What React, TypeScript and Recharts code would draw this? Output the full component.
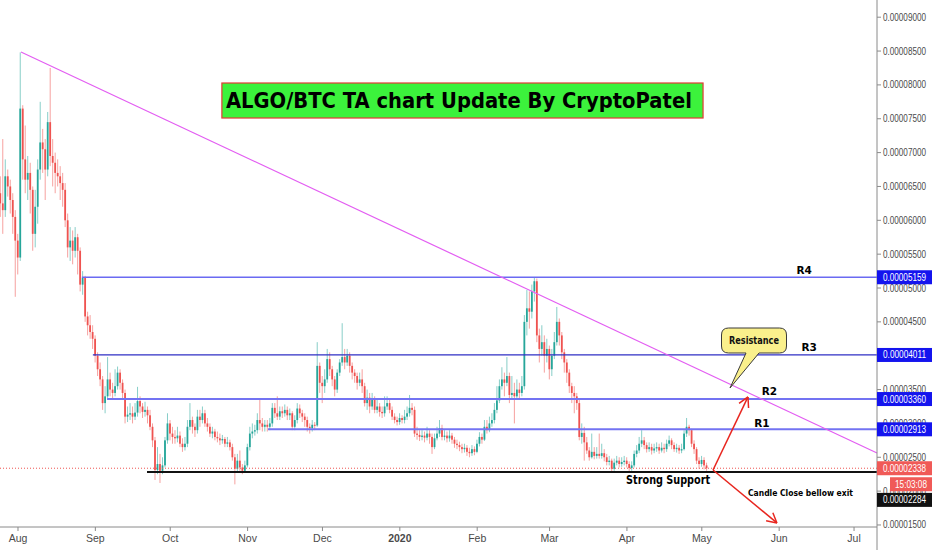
import React from 'react'
import {
  ComposedChart,
  Bar,
  XAxis,
  YAxis,
  ReferenceLine,
  ReferenceArea,
  ReferenceDot,
} from 'recharts'

// daily ALGO/BTC candles in satoshi, first one is 25 Jul 2019 (day -7, day 0 = 1 Aug)
const firstDay = -7
const firstOpen = 6400

const closes = [
  6250, 6150, 6650, 6500, 6300, 6050, 5700,
  5450, 7650, 6900, 6600, 6700, 6450, 5800, 6200, 6750, 7150,
  7050, 6750, 7450, 6950, 6850, 6700, 6650, 6550, 6450, 6000,
  5600, 5700, 5550, 5750, 5550, 5050, 5150, 4580, 4450, 4350,
  4250, 4000, 3800, 3650, 3300, 3400, 3650, 3500, 3450, 3550,
  3750, 3600, 3450, 3100, 3130, 3150, 3100, 3160, 3330, 3250,
  3170, 3200, 3120, 2950, 2750, 2310, 2400, 2300, 2380, 2750,
  3000, 2850, 2800, 2780, 2820, 2700, 2650, 2700, 2950, 3050,
  2950, 2900, 3100, 3050, 3150, 3000, 2950, 2850, 2880, 2800,
  2780, 2750, 2770, 2700, 2720, 2650, 2500, 2330, 2450, 2350,
  2300, 2380, 2650, 2850, 2880, 2900, 3050, 3000, 2950, 2980,
  2950, 3000, 3230, 3150, 3100, 3180, 3150, 3200, 3120, 3150,
  2950, 3050, 3220, 3150, 3100, 3050, 2950, 2930, 2980, 2970,
  3850, 3600, 3550, 3650, 3950, 3800, 3650, 3500, 3750, 3900,
  3980, 3900, 4000, 3850, 3750, 3700, 3600, 3650, 3550, 3300,
  3380, 3250, 3350, 3200, 3250, 3170, 3150, 3250, 3300, 3200,
  3100, 3050, 3020, 3080, 3050, 3100, 3150, 3230, 3200, 2850,
  2830, 2800, 2820, 2790, 2850, 2800, 2650, 2780, 2850, 2930,
  2800, 2820, 2780, 2820, 2760, 2700, 2680, 2650, 2620, 2640,
  2580, 2560, 2620, 2580, 2700, 2800, 2760, 2950, 2900, 3000,
  3050, 3200, 3340, 3550, 3650, 3600, 3700, 3420, 3450, 3400,
  3500, 3450, 3550, 4500, 4700, 4650, 4950, 5100, 4300, 4100,
  4200, 4000, 4100, 3800, 4000, 4200, 4500, 4300, 4050, 3900,
  3750, 3550, 3450, 3400, 3300, 2800, 2860, 2720, 2600, 2500,
  2580, 2520, 2550, 2520, 2560, 2500, 2430, 2450, 2330, 2420,
  2450, 2400, 2430, 2450, 2400, 2340, 2380, 2550, 2600, 2700,
  2750, 2680, 2620, 2650, 2600, 2630, 2650, 2600, 2640, 2620,
  2700, 2750, 2680, 2620, 2640, 2600, 2620, 2850, 2950, 2900,
  2700, 2620, 2450, 2400, 2460, 2380, 2338,
]

const highs = [
  6650, 7200, 6900, 6750, 6600, 6400, 6150,
  5800, 8480, 7700, 7400, 6950, 6850, 6500, 6450, 6900, 7750,
  7350, 7200, 7600, 8250, 7200, 7000, 6900, 6800, 6700, 6550,
  6100, 5900, 5850, 5900, 5800, 5600, 5250, 5180, 4650, 4600,
  4450, 4300, 4050, 3900, 3700, 3550, 3980, 3750, 3600, 3800,
  3840, 3800, 3650, 3500, 3250, 3300, 3250, 3300, 3540, 3400,
  3300, 3320, 3250, 3200, 3000, 2800, 2650, 2550, 2500, 2800,
  3150, 3050, 2950, 2900, 2950, 2880, 2780, 2800, 3050, 3300,
  3100, 3000, 3200, 3200, 3250, 3200, 3080, 3000, 2950, 2920,
  2880, 2850, 2830, 2800, 2800, 2760, 2700, 2550, 2550, 2600,
  2400, 2450, 2700, 2950, 3000, 2980, 3150, 3350, 3080, 3050,
  3050, 3080, 3300, 3300, 3400, 3250, 3250, 3280, 3250, 3220,
  3180, 3120, 3300, 3280, 3200, 3150, 3100, 3000, 3050, 3020,
  4200, 3900, 3700, 3800, 4100, 4050, 3850, 3700, 3800, 3950,
  4480, 4100, 4100, 4050, 3900, 3800, 3750, 3750, 3800, 3600,
  3500, 3450, 3450, 3400, 3350, 3300, 3250, 3400, 3400, 3350,
  3250, 3150, 3100, 3150, 3120, 3200, 3250, 3420, 3300, 3250,
  2950, 2900, 2900, 2880, 2950, 2900, 2850, 2850, 2950, 3050,
  2980, 2900, 2880, 2900, 2860, 2800, 2760, 2730, 2700, 2700,
  2680, 2640, 2680, 2660, 2760, 2870, 2850, 3050, 3050, 3100,
  3150, 3300, 3550, 3650, 3830, 3750, 3980, 3750, 3700, 3600,
  3650, 3600, 3700, 4600, 4970, 4950, 5050, 5159, 5140, 4400,
  4450, 4300, 4250, 4150, 4100, 4350, 4720, 4550, 4350, 4100,
  3950, 3800, 3600, 3550, 3450, 3350, 3000, 2950, 2800, 2650,
  2850, 2650, 2650, 2850, 2700, 2620, 2550, 2520, 2480, 2480,
  2520, 2500, 2500, 2520, 2500, 2440, 2440, 2600, 2680, 2800,
  2900, 2800, 2720, 2720, 2700, 2700, 2720, 2700, 2720, 2700,
  2760, 2820, 2780, 2720, 2700, 2680, 2700, 2900, 3080, 2980,
  2920, 2750, 2650, 2500, 2520, 2500, 2420,
]

const lows = [
  6050, 5800, 6050, 6350, 6100, 5800, 4870,
  5200, 5400, 6600, 6400, 6300, 6100, 5550, 5600, 5950, 6600,
  6700, 6300, 6650, 6800, 6500, 6400, 6500, 6300, 6200, 5900,
  5450, 5400, 5350, 5450, 5200, 4950, 4900, 4500, 4300, 4250,
  4100, 3900, 3700, 3550, 3200, 3150, 3350, 3400, 3350, 3400,
  3500, 3500, 3350, 3000, 3020, 3050, 3000, 3050, 3100, 3150,
  3080, 3100, 3000, 2900, 2650, 2165, 2250, 2120, 2250, 2350,
  2700, 2750, 2700, 2700, 2720, 2650, 2580, 2600, 2650, 2900,
  2850, 2800, 2850, 2950, 3000, 2950, 2880, 2800, 2780, 2750,
  2720, 2680, 2700, 2650, 2650, 2600, 2450, 2100, 2280, 2300,
  2250, 2270, 2350, 2600, 2780, 2820, 2850, 2900, 2880, 2880,
  2880, 2900, 2950, 3080, 3050, 3050, 3080, 3100, 3050, 3050,
  2900, 2900, 3000, 3080, 3020, 2950, 2880, 2850, 2880, 2900,
  2950, 3450, 3300, 3450, 3600, 3700, 3550, 3400, 3450, 3700,
  3850, 3800, 3850, 3750, 3650, 3600, 3500, 3550, 3450, 3250,
  3200, 3150, 3200, 3150, 3150, 3100, 3080, 3100, 3200, 3150,
  3050, 3000, 2970, 2980, 3000, 3000, 3050, 3100, 3120, 2800,
  2760, 2740, 2750, 2720, 2750, 2700, 2550, 2620, 2750, 2800,
  2750, 2750, 2720, 2730, 2700, 2640, 2620, 2590, 2560, 2570,
  2520, 2500, 2520, 2530, 2560, 2660, 2700, 2740, 2850, 2870,
  2950, 3000, 3150, 3300, 3500, 3400, 3550, 3300, 3350, 3000,
  3350, 3350, 3400, 3500, 4300, 4400, 4550, 4800, 4200, 3900,
  4000, 3750, 3900, 3650, 3700, 3950, 4150, 4150, 3950, 3750,
  3600, 3450, 3300, 3150, 3200, 2750, 2700, 2450, 2550, 2450,
  2480, 2470, 2480, 2480, 2480, 2440, 2380, 2380, 2290, 2300,
  2380, 2350, 2360, 2380, 2350, 2290, 2300, 2350, 2500, 2560,
  2650, 2620, 2570, 2580, 2540, 2560, 2580, 2550, 2570, 2560,
  2580, 2660, 2620, 2580, 2570, 2550, 2560, 2600, 2800, 2820,
  2650, 2550, 2400, 2330, 2360, 2320, 2300,
]

// month starts (days from 1 Aug 2019) and their labels
const monthDays = [0, 31, 61, 92, 122, 153, 184, 213, 244, 274, 305, 335]
const monthLabels = ['Aug', 'Sep', 'Oct', 'Nov', 'Dec', '2020', 'Feb', 'Mar', 'Apr', 'May', 'Jun', 'Jul']

const priceTicks = [1500, 2000, 2500, 3000, 3500, 4000, 4500, 5000, 5500, 6000, 6500, 7000, 7500, 8000, 8500, 9000]

// levels drawn on the chart
const levelR4 = 5159
const levelR3 = 4011
const levelR2 = 3360
const levelR1 = 2913
const support = 2284
const lastPrice = 2338
const countdown = '15:03:08'

const rows = closes.map((c, i) => ({
  day: firstDay + i,
  open: i === 0 ? firstOpen : closes[i - 1],
  high: highs[i],
  low: lows[i],
  close: c,
}))

const X_MIN = -7.21
const X_MAX = 344.2
const Y_MIN = 1470
const Y_MAX = 9254

const UP = '#26a69a'
const DOWN = '#ef5350'
const AXIS_FONT = '"Liberation Sans", Arial, sans-serif'
const BOLD_FONT = '"DejaVu Sans", Verdana, sans-serif'

const fmt = (v: number) => (v / 1e8).toFixed(8)

function Candle(props: any) {
  const { x, y, width, height, payload } = props
  if (!payload) return null
  const top = Math.min(y, y + height)
  const h = Math.abs(height)
  const k = h / (payload.high - payload.low)
  const cx = x + width / 2
  const yO = top + (payload.high - payload.open) * k
  const yC = top + (payload.high - payload.close) * k
  const color = payload.close >= payload.open ? UP : DOWN
  const bTop = Math.min(yO, yC)
  const bH = Math.max(Math.abs(yO - yC), 1)
  return (
    <g>
      <line x1={cx} x2={cx} y1={top} y2={top + h} stroke={color} strokeOpacity={0.55} strokeWidth={1} />
      <rect x={cx - 0.9} y={bTop} width={1.8} height={bH} fill={color} />
    </g>
  )
}

function DateTick({ x, y, payload }: any) {
  const i = monthDays.indexOf(payload.value)
  const label = monthLabels[i]
  return (
    <text
      x={x}
      y={y + 9}
      textAnchor="middle"
      fontSize={10.5}
      fontFamily={AXIS_FONT}
      fill="#4a4a4a"
      fontWeight={label === '2020' ? 700 : 400}
    >
      {label}
    </text>
  )
}

function PriceTick({ x, y, payload }: any) {
  return (
    <text
      x={x}
      y={y + 3.5}
      fontSize={10}
      fontFamily={AXIS_FONT}
      fill="#4a4a4a"
      textLength={43}
      lengthAdjust="spacingAndGlyphs"
    >
      {fmt(payload.value)}
    </text>
  )
}

function Arrow(props: any) {
  const { x1, y1, x2, y2 } = props
  const a = Math.atan2(y2 - y1, x2 - x1)
  const L = 11
  const w = 0.5
  return (
    <g stroke="#e8261f" strokeWidth={1.5} fill="none">
      <line x1={x1} y1={y1} x2={x2} y2={y2} />
      <line x1={x2} y1={y2} x2={x2 - L * Math.cos(a - w)} y2={y2 - L * Math.sin(a - w)} />
      <line x1={x2} y1={y2} x2={x2 - L * Math.cos(a + w)} y2={y2 - L * Math.sin(a + w)} />
    </g>
  )
}

function Title(props: any) {
  const { x, y, width, height } = props
  return (
    <g>
      <rect x={x} y={y} width={width} height={height} fill="#3cf23c" stroke="#e53935" strokeWidth={1.2} />
      <text
        x={x + 4}
        y={y + height / 2 + 7.5}
        fontSize={21}
        fontWeight={700}
        fontFamily={BOLD_FONT}
        fill="#000"
        textLength={466}
        lengthAdjust="spacingAndGlyphs"
      >
        ALGO/BTC TA chart Update By CryptoPatel
      </text>
    </g>
  )
}

function Callout({ cx, cy }: any) {
  const L = cx - 8.5
  const R = cx + 56.5
  const T = cy - 60
  const B = cy - 35
  const r = 7
  const d = `M${L + r},${T} H${R - r} Q${R},${T} ${R},${T + r} V${B - r} Q${R},${B} ${R - r},${B} H${cx + 29} L${cx},${cy} L${cx + 16},${B} H${L + r} Q${L},${B} ${L},${B - r} V${T + r} Q${L},${T} ${L + r},${T} Z`
  return (
    <g>
      <path d={d} fill="#faf08c" stroke="#3a3a3a" strokeWidth={1} />
      <text x={cx + 24} y={cy - 44} textAnchor="middle" fontSize={10.5} fontWeight={700} fontFamily={BOLD_FONT} fill="#111" textLength={50} lengthAdjust="spacingAndGlyphs">
        Resistance
      </text>
    </g>
  )
}

const textDot = (value: string, anchor: 'start' | 'middle', size: number, len?: number) =>
  function TextShape({ cx, cy }: any) {
    return (
      <text
        x={cx}
        y={cy + size * 0.36}
        textAnchor={anchor}
        fontSize={size}
        fontWeight={700}
        fontFamily={BOLD_FONT}
        fill="#000"
        textLength={len}
        lengthAdjust={len ? 'spacingAndGlyphs' : undefined}
      >
        {value}
      </text>
    )
  }

const priceBox = (value: number, color: string, dy = 0) =>
  function PriceBox({ cx, cy }: any) {
    return (
      <g>
        <rect x={cx} y={cy + dy - 7} width={55} height={14} fill={color} />
        <text
          x={cx + 6}
          y={cy + dy + 3.5}
          fontSize={10}
          fontFamily={AXIS_FONT}
          fill="#fff"
          textLength={43}
          lengthAdjust="spacingAndGlyphs"
        >
          {fmt(value)}
        </text>
      </g>
    )
  }

function TimerBox({ cx, cy }: any) {
  return (
    <g>
      <rect x={cx + 13} y={cy + 9} width={42} height={14} fill="#f05a57" />
      <text x={cx + 34} y={cy + 19.5} textAnchor="middle" fontSize={10} fontFamily={AXIS_FONT} fill="#fff" textLength={32} lengthAdjust="spacingAndGlyphs">
        {countdown}
      </text>
    </g>
  )
}

export default function App() {
  return (
    <div style={{ position: 'absolute', left: 0, top: 0, width: 932, height: 550, background: '#fff' }}>
      <ComposedChart width={932} height={550} data={rows} margin={{ top: 0, right: 0, bottom: 0, left: 0 }}>
        <XAxis
          dataKey="day"
          type="number"
          domain={[X_MIN, X_MAX]}
          allowDataOverflow
          ticks={monthDays}
          interval={0}
          height={23}
          tickSize={4}
          stroke="#8a8a8a"
          tick={<DateTick />}
        />
        <YAxis
          orientation="right"
          type="number"
          domain={[Y_MIN, Y_MAX]}
          allowDataOverflow
          ticks={priceTicks}
          interval={0}
          width={55}
          tickSize={4}
          stroke="#8a8a8a"
          tick={<PriceTick />}
        />
        <ReferenceLine
          segment={[{ x: X_MAX, y: Y_MIN }, { x: X_MAX, y: 1100 }]}
          stroke="#8a8a8a"
          ifOverflow="visible"
        />

        <Bar
          dataKey={(r: any) => [r.low, r.high]}
          shape={Candle}
          barSize={2}
          isAnimationActive={false}
        />

        <ReferenceLine y={lastPrice} stroke="#ef5350" strokeDasharray="1 2" strokeWidth={1} />
        <ReferenceLine segment={[{ x: 51.7, y: support }, { x: X_MAX, y: support }]} stroke="#111" strokeWidth={2} />
        <ReferenceLine segment={[{ x: 25.6, y: levelR4 }, { x: X_MAX, y: levelR4 }]} stroke="#6a6af2" strokeWidth={1.6} />
        <ReferenceLine segment={[{ x: 30, y: levelR3 }, { x: X_MAX, y: levelR3 }]} stroke="#2f2fc4" strokeWidth={1.2} />
        <ReferenceLine segment={[{ x: 35.7, y: levelR2 }, { x: X_MAX, y: levelR2 }]} stroke="#7373f2" strokeWidth={2} />
        <ReferenceLine segment={[{ x: 100.2, y: levelR1 }, { x: X_MAX, y: levelR1 }]} stroke="#7373f2" strokeWidth={2} />
        <ReferenceLine segment={[{ x: 1.2, y: 8486 }, { x: X_MAX, y: 2563 }]} stroke="#e35ef2" strokeWidth={1.2} />

        <ReferenceLine segment={[{ x: 278.5, y: 2312 }, { x: 292.5, y: 3391 }]} shape={Arrow} ifOverflow="visible" />
        <ReferenceLine segment={[{ x: 278.5, y: 2312 }, { x: 304.1, y: 1530 }]} shape={Arrow} ifOverflow="visible" />

        <ReferenceArea x1={81.7} x2={274.5} y1={7511} y2={8028} shape={Title} />
        <ReferenceDot x={285.3} y={3523} r={0} shape={Callout} />

        <ReferenceDot x={315} y={5266} r={0} shape={textDot('R4', 'middle', 10.5)} />
        <ReferenceDot x={317} y={4122} r={0} shape={textDot('R3', 'middle', 10.5)} />
        <ReferenceDot x={301.1} y={3472} r={0} shape={textDot('R2', 'middle', 10.5)} />
        <ReferenceDot x={298.1} y={2999} r={0} shape={textDot('R1', 'middle', 10.5)} />
        <ReferenceDot x={260.5} y={2165} r={0} shape={textDot('Strong Support', 'middle', 12, 84)} />
        <ReferenceDot x={292.5} y={1973} r={0} shape={textDot('Candle Close bellow exit', 'start', 9.5, 105)} />

        <ReferenceDot x={X_MAX} y={levelR4} r={0} shape={priceBox(levelR4, '#1414ee')} zIndex={2500} ifOverflow="visible" />
        <ReferenceDot x={X_MAX} y={levelR3} r={0} shape={priceBox(levelR3, '#1414ee')} zIndex={2500} ifOverflow="visible" />
        <ReferenceDot x={X_MAX} y={levelR2} r={0} shape={priceBox(levelR2, '#1414ee')} zIndex={2500} ifOverflow="visible" />
        <ReferenceDot x={X_MAX} y={levelR1} r={0} shape={priceBox(levelR1, '#1414ee')} zIndex={2500} ifOverflow="visible" />
        <ReferenceDot x={X_MAX} y={lastPrice} r={0} shape={priceBox(lastPrice, '#f05a57')} zIndex={2500} ifOverflow="visible" />
        <ReferenceDot x={X_MAX} y={lastPrice} r={0} shape={TimerBox} zIndex={2500} ifOverflow="visible" />
        <ReferenceDot x={X_MAX} y={support} r={0} shape={priceBox(support, '#111', 28)} zIndex={2500} ifOverflow="visible" />
      </ComposedChart>
    </div>
  )
}
